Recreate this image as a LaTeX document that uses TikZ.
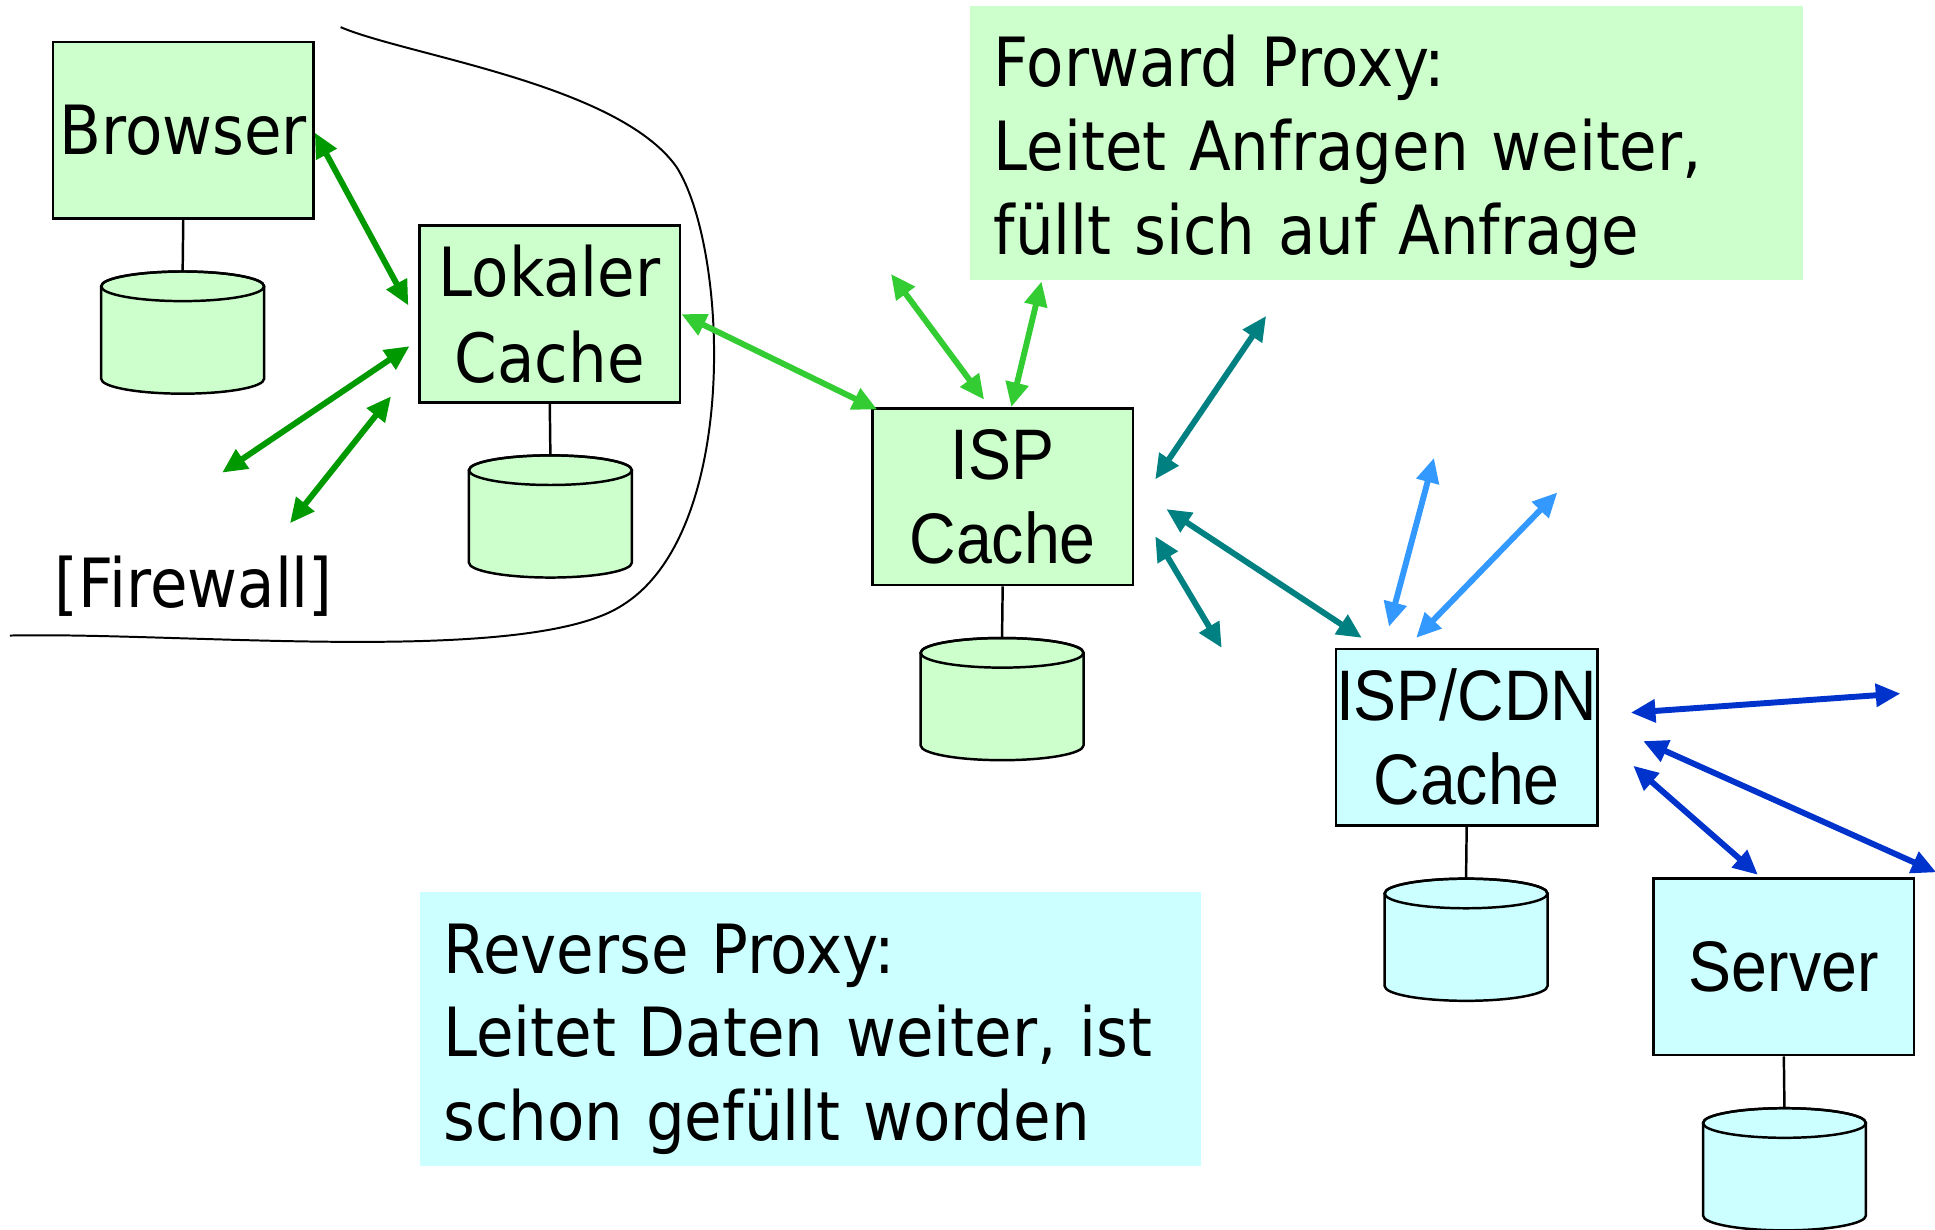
\documentclass[tikz,border=0pt]{standalone}
\usepackage{fontspec}
\usetikzlibrary{arrows.meta,calc}
\newfontfamily\narrowsans[FakeStretch=0.9]{DejaVu Sans}
\newfontfamily\boxsans[FakeStretch=0.9]{Liberation Sans}
\definecolor{fillgreen}{HTML}{CCFFCC}
\definecolor{fillcyan}{HTML}{CCFFFF}
\definecolor{darkgreen}{HTML}{009900}
\definecolor{lightgreen}{HTML}{33CC33}
\definecolor{tealarrow}{HTML}{008080}
\definecolor{skyarrow}{HTML}{3399FF}
\definecolor{bluearrow}{HTML}{0033CC}

\tikzset{
  box/.style={draw=black, line width=2.2pt, minimum width=211pt, minimum height=143pt,
    inner sep=0pt, align=center, font=\narrowsans\fontsize{55}{70}\selectfont},
  greenbox/.style={box, fill=fillgreen},
  cyanbox/.style={box, fill=fillcyan, font=\boxsans\fontsize{58}{68}\selectfont},
  note/.style={anchor=north west, minimum width=675pt, minimum height=222pt,
    inner xsep=19pt, inner ysep=0pt, align=left, text width=637pt,
    font=\narrowsans\fontsize{55}{68}\selectfont},
  stem/.style={line width=2pt},
  link/.style={line width=4.8pt, {Triangle[length=20pt,width=18pt]}-{Triangle[length=20pt,width=18pt]}},
}

% database drum: name, centre x, top-ellipse centre y, fill colour
\newcommand\dbcyl[4]{%
  \draw[line width=2pt, fill=#4] (#2-66,#3) -- (#2-66,#3+75)
    arc[start angle=180, end angle=360, x radius=66pt, y radius=12pt]
    -- (#2+66,#3)
    arc[start angle=0, end angle=180, x radius=66pt, y radius=12pt] -- cycle;
  \draw[line width=2pt] (#2,#3) ellipse[x radius=66pt, y radius=12pt];
  \coordinate (#1) at (#2,#3-12);
}

\begin{document}
\begin{tikzpicture}[x=1pt, y=-1pt]
\useasboundingbox (0,0) rectangle (1568,996);

% explanatory notes (the strut lowers the text block a little)
\node[note, fill=fillgreen] (fwd) at (786,5)
  {\rule{0pt}{56pt}Forward Proxy:\\Leitet Anfragen weiter,\\füllt sich auf Anfrage};
\node[note, fill=fillcyan, minimum width=633pt, text width=595pt] (rev) at (340,723)
  {\rule{0pt}{56pt}Reverse Proxy:\\Leitet Daten weiter, ist\\schon gefüllt worden};

% firewall boundary
\draw[line width=1.6pt] (276,22) .. controls (330,45) and (500,68) .. (548,135)
  .. controls (590,200) and (600,430) .. (505,490)
  .. controls (430,540) and (150,512) .. (8,515);
\node[font=\narrowsans\fontsize{55}{68}\selectfont] (fw) at (157,475) {[Firewall]};

% caches and endpoints
\node[greenbox] (brw) at (148.5,105.5) {\raisebox{-2pt}{Browser}};
\node[greenbox] (lok) at (445.5,254.5) {Lokaler\\Cache};
\node[greenbox, font=\boxsans\fontsize{58}{68}\selectfont] (isp) at (812.5,402.5) {ISP\\Cache};
\node[cyanbox] (cdn) at (1188.5,597.5) {ISP/CDN\\Cache};
\node[cyanbox] (srv) at (1445.5,783.5) {Server};

% storage drums
\dbcyl{dbA}{148}{232}{fillgreen}
\dbcyl{dbB}{446}{381}{fillgreen}
\dbcyl{dbC}{812}{529}{fillgreen}
\dbcyl{dbD}{1188}{724}{fillcyan}
\dbcyl{dbE}{1446}{910}{fillcyan}
\draw[stem] (brw.south) -- (dbA);
\draw[stem] (lok.south) -- (dbB);
\draw[stem] (isp.south) -- (dbC);
\draw[stem] (cdn.south) -- (dbD);
\draw[stem] (srv.south) -- (dbE);

% open ends of the links
\coordinate (lanA) at (180,383);
\coordinate (lanB) at (235,424);
\coordinate (upA) at (722,222);
\coordinate (upB) at (844,228);
\coordinate (netA) at (1026,256);
\coordinate (netB) at (990,525);
\coordinate (cdnA) at (1162,371);
\coordinate (cdnB) at (1262,399);
\coordinate (srvA) at (1540,562);

% inside the firewall
\draw[link, darkgreen] ($(brw.east)+(0,2)$) -- ($(lok.west)+(-8,-7)$);
\draw[link, darkgreen] ($(lok.west)+(-7,26)$) -- (lanA);
\draw[link, darkgreen] ($(lok.south west)+(-22,-6)$) -- (lanB);

% forward proxy links
\draw[link, lightgreen] (lok.east) -- ($(isp.north west)+(5,2)$);
\draw[link, lightgreen] (upA) -- ($(isp.north)+(-15,-6)$);
\draw[link, lightgreen] (upB) -- ($(isp.north)+(7,0)$);

% ISP uplinks
\draw[link, tealarrow] (netA) -- ($(isp.east)+(17,-14)$);
\draw[link, tealarrow] ($(isp.east)+(26,10)$) -- ($(cdn.north west)+(22,-8)$);
\draw[link, tealarrow] ($(isp.east)+(17,32)$) -- (netB);

% CDN links
\draw[link, skyarrow] (cdnA) -- ($(cdn.north west)+(44,-17)$);
\draw[link, skyarrow] (cdnB) -- ($(cdn.north west)+(66,-8)$);

% reverse proxy to origin servers
\draw[link, bluearrow] ($(cdn.east)+(26,-20)$) -- (srvA);
\draw[link, bluearrow] ($(cdn.east)+(36,3)$) -- ($(srv.north east)+(17,-4)$);
\draw[link, bluearrow] ($(cdn.east)+(28,23)$) -- ($(srv.north)+(-21,-2)$);
\end{tikzpicture}
\end{document}
